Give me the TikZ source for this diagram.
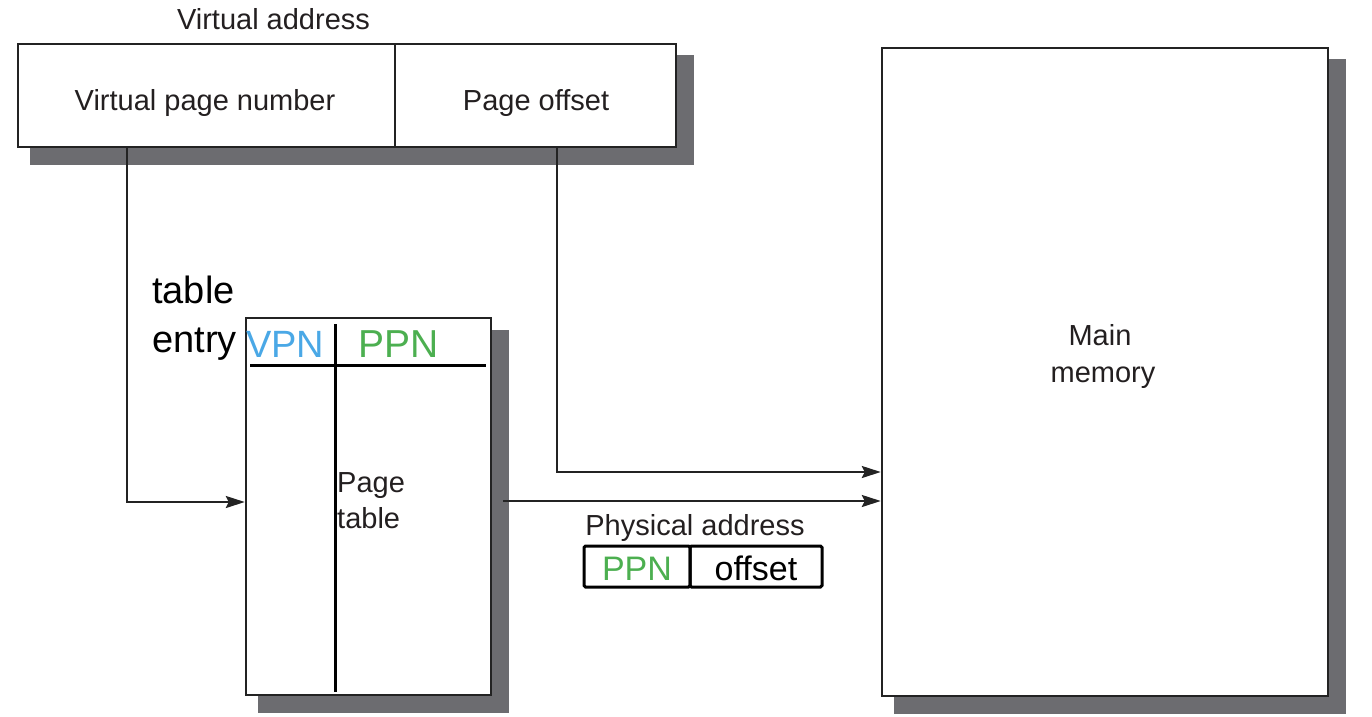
\documentclass[tikz,border=0pt]{standalone}
\usepackage{fontspec}
\setmainfont{Liberation Sans}
\usetikzlibrary{arrows.meta,calc}
\definecolor{shadowc}{RGB}{108,108,112}
\definecolor{labc}{RGB}{35,31,32}
\definecolor{vpnblue}{RGB}{74,168,230}
\definecolor{ppngreen}{RGB}{76,175,80}
\definecolor{linec}{RGB}{35,35,35}
\begin{document}
\begin{tikzpicture}[x=1pt,y=-1pt,
  box/.style={draw=linec,line width=2.4pt,fill=white,inner sep=0pt},
  shade/.style={fill=shadowc},
  lab/.style={text=labc,font=\fontsize{29}{35}\selectfont,inner sep=0pt,anchor=base},
  big/.style={font=\fontsize{38}{46}\selectfont,inner sep=0pt,anchor=base west},
  mid/.style={font=\fontsize{34}{40}\selectfont,inner sep=0pt,anchor=base},
  conn/.style={draw=linec,line width=2.4pt,-{Stealth[length=19pt,width=12pt,inset=3pt]}},
  divline/.style={line width=3pt,black},
  pabox/.style={draw=black,line width=3pt,rounded corners=1.5pt,inner sep=0pt,minimum height=41pt}
]
\useasboundingbox (0,0) rectangle (1372,716);
% shadows
\fill[shade] (30,55) rectangle (694,165);
\fill[shade] (258,330) rectangle (509,713);
\fill[shade] (894,59) rectangle (1346,714);
% virtual address
\node[box,minimum width=377pt,minimum height=103pt] (vpn) at (206.5,95.5) {};
\node[box,minimum width=281pt,minimum height=103pt] (off) at (535.5,95.5) {};
\node[lab] (tva) at (273.5,29) {Virtual address};
\node[lab] (tvpn) at (205,110) {Virtual page number};
\node[lab] (toff) at (536,110) {Page offset};
% page table
\node[box,minimum width=245pt,minimum height=377pt] (pt) at (368.5,506.5) {};
\draw[divline] (250,365) -- (486,365);
\draw[divline] (335,324) -- (335,692);
\node[lab,anchor=base west] (tpage) at (337,492) {Page};
\node[lab,anchor=base west] (ttable) at (337,528) {table};
% main memory
\node[box,minimum width=446pt,minimum height=648pt] (mm) at (1105,372) {};
\node[lab] (tmain) at (1100,345) {Main};
\node[lab] (tmem) at (1103,382) {memory};
% connectors
\draw[conn] ([xshift=-79.5pt]vpn.south) |- ([yshift=4.5pt]pt.west);
\draw[conn] ([xshift=21.5pt]off.south) |- ([yshift=-100pt]mm.west);
\draw[conn] ([xshift=11pt,yshift=5.5pt]pt.east) -- ([yshift=-129pt]mm.west);
% overlay labels
\node[big] (ttab) at (152,303) {table};
\node[big] (tent) at (152,352) {entry};
\node[big,text=vpnblue] (tvpnh) at (246,357) {VPN};
\node[big,text=ppngreen,font=\fontsize{39}{46}\selectfont] (tppnh) at (358,357) {PPN};
% physical address
\node[lab] (tpa) at (695,535) {Physical address};
\node[pabox,minimum width=106pt] (ppnb) at (637,566.5) {};
\node[pabox,minimum width=132pt] (offb) at (756,566.5) {};
\node[mid,text=ppngreen] (tppn) at (637,580) {PPN};
\node[mid] (toffs) at (756,580) {offset};
\end{tikzpicture}
\end{document}
